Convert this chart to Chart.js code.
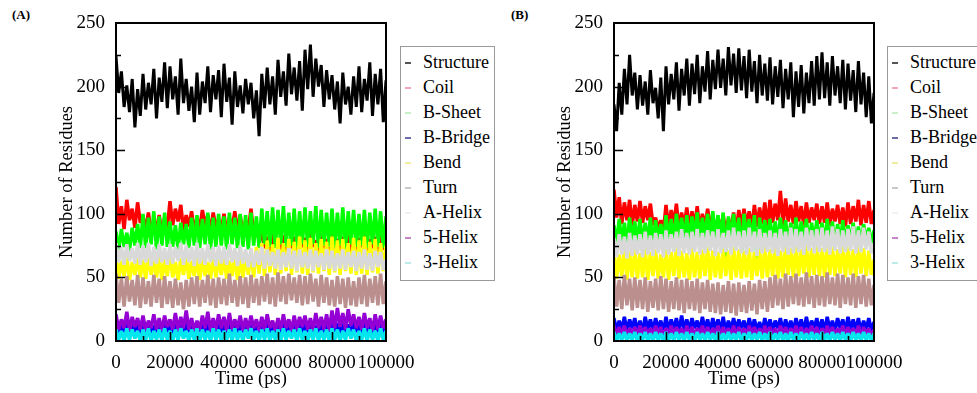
<!DOCTYPE html>
<html>
<head>
<meta charset="utf-8">
<script src="https://cdn.jsdelivr.net/npm/chart.js@4.4.1/dist/chart.umd.min.js"></script>
<style>
  body { margin: 0; width: 977px; height: 393px; background: #fff; overflow: hidden; position: relative; font-family: "Liberation Serif", "DejaVu Serif", serif; }
  .panel { position: absolute; top: 0; }
  .tag { position: absolute; top: 7px; font-weight: bold; font-size: 13px; }
  .legend { position: absolute; top: 46px; height: 235px; width: 95px; border: 1.5px solid #9a9a9a; background: #fff; box-sizing: border-box; }
  .legend div { position: absolute; left: 22px; font-size: 18px; line-height: 20px; white-space: nowrap; }
  .legend span { position: absolute; left: -18px; top: 10px; width: 6px; height: 1.5px; }
</style>
</head>
<body>
<div class="tag" style="left:12px">(A)</div>
<div class="tag" style="left:511px">(B)</div>
<div class="panel" style="left:0"><canvas id="chartA" width="430" height="393"></canvas></div>
<div class="panel" style="left:498px"><canvas id="chartB" width="479" height="393"></canvas></div>
<div class="legend" id="legendA" style="left:400px"></div>
<div class="legend" id="legendB" style="left:887px"></div>
<script>
// time axis (ps), one sample per 1000 ps
const timePs = [
  0,1000,2000,3000,4000,5000,6000,7000,8000,9000,
  10000,11000,12000,13000,14000,15000,16000,17000,18000,19000,
  20000,21000,22000,23000,24000,25000,26000,27000,28000,29000,
  30000,31000,32000,33000,34000,35000,36000,37000,38000,39000,
  40000,41000,42000,43000,44000,45000,46000,47000,48000,49000,
  50000,51000,52000,53000,54000,55000,56000,57000,58000,59000,
  60000,61000,62000,63000,64000,65000,66000,67000,68000,69000,
  70000,71000,72000,73000,74000,75000,76000,77000,78000,79000,
  80000,81000,82000,83000,84000,85000,86000,87000,88000,89000,
  90000,91000,92000,93000,94000,95000,96000,97000,98000,99000,
  100000
];

const seriesNames = ["Structure", "Coil", "B-Sheet", "B-Bridge", "Bend", "Turn", "A-Helix", "5-Helix", "3-Helix"];
const seriesColors = ["#000000", "#ff0000", "#00ff00", "#0000ff", "#ffff00", "#bc8f8f", "#d9d9d9", "#9400d3", "#00e8ee"];
const swatchColors = ["#555555", "#f4a6b4", "#c9efc9", "#6d6da6", "#f0ee9c", "#c9c9c9", "#f2f2f2", "#c785c9", "#bdece8"];

// ---- panel A ----
const structureA = [
  224,195,212,184,201,180,206,168,198,177,
  210,182,203,186,214,175,207,188,219,183,
  216,190,208,178,222,187,206,181,200,172,
  211,178,204,187,216,180,209,190,213,176,
  218,188,207,170,212,184,201,179,206,186,
  203,175,197,161,210,183,215,186,208,178,
  221,192,212,185,226,194,215,189,220,181,
  229,198,233,192,222,200,217,184,213,190,
  209,182,204,171,211,186,200,178,208,184,
  216,180,206,189,219,177,210,186,214,172,
  205
];
const coilA = [
  121,92,106,88,111,95,104,89,109,93,
  98,87,101,85,95,88,99,84,97,89,
  110,91,104,94,107,87,99,90,102,86,
  97,88,103,91,99,86,101,89,96,87,
  100,85,97,88,102,86,99,84,95,87,
  104,83,93,78,86,73,82,71,84,75,
  80,72,83,70,79,73,82,71,78,74,
  81,71,84,74,79,70,83,73,80,72,
  84,73,80,71,82,74,85,70,79,72,
  81,74,83,71,80,73,82,70,84,72,
  78
];
const sheetA = [
  86,72,88,74,85,71,89,75,92,73,
  100,73,97,76,102,72,98,75,101,74,
  94,74,91,72,93,76,92,73,97,75,
  99,73,96,76,101,72,97,74,100,75,
  98,72,101,76,97,73,100,74,99,72,
  101,75,98,73,104,76,102,74,105,73,
  103,76,106,74,101,75,104,73,102,76,
  105,74,102,76,106,73,103,75,101,74,
  104,73,101,75,105,72,102,76,103,74,
  100,75,103,73,101,76,104,74,102,73,
  98
];
const bridgeA = [
  14,6,13,7,15,6,12,7,14,6,
  13,7,14,6,12,7,15,6,13,7,
  14,6,13,7,12,6,14,7,13,6,
  15,7,14,6,13,7,16,6,14,7,
  13,6,15,7,14,6,13,7,12,6,
  14,7,13,6,15,7,14,6,13,7,
  12,6,14,7,13,6,15,7,14,6,
  13,7,14,6,12,7,15,6,14,7,
  16,7,14,6,15,7,13,6,14,7,
  13,6,14,7,12,6,15,7,13,6,
  12
];
const bendA = [
  67,49,63,51,66,48,62,52,65,50,
  64,49,67,52,63,50,66,48,64,51,
  68,50,62,48,65,52,67,49,63,51,
  65,48,66,51,62,49,67,50,64,52,
  66,49,63,51,67,48,64,50,66,52,
  70,50,74,53,77,51,79,54,76,52,
  81,53,77,55,80,52,78,54,82,53,
  79,52,81,54,77,53,80,55,78,52,
  82,54,79,52,80,55,77,53,81,52,
  79,53,82,52,78,54,80,53,77,55,
  75
];
const turnA = [
  53,30,49,27,51,31,48,28,52,26,
  50,29,47,27,52,30,49,26,51,29,
  47,26,49,28,46,25,48,27,50,29,
  51,27,48,30,52,28,49,26,50,29,
  49,28,53,30,48,27,51,29,50,26,
  52,30,49,28,51,31,53,29,50,27,
  54,31,51,29,53,32,50,30,52,28,
  51,29,53,31,49,27,52,30,50,28,
  48,27,51,29,49,26,50,28,47,27,
  50,29,52,27,49,30,51,28,53,29,
  47
];
const aHelixA = [
  77,62,74,60,76,63,73,61,77,60,
  75,62,77,59,74,61,76,62,73,60,
  76,61,74,63,77,60,75,62,74,59,
  77,61,73,60,76,62,74,59,75,61,
  74,60,76,62,73,59,75,61,72,58,
  73,58,71,60,74,57,72,59,70,57,
  72,56,70,58,73,57,71,55,72,58,
  70,57,72,55,71,58,69,56,72,57,
  71,55,69,57,72,56,70,58,71,55,
  70,57,72,56,69,55,71,58,70,56,
  64
];
const fiveHelixA = [
  21,9,17,10,23,8,19,11,18,9,
  20,8,16,10,21,9,18,8,20,11,
  17,9,22,8,19,10,24,9,18,8,
  16,9,20,10,23,8,18,9,21,10,
  19,8,22,9,17,10,20,8,18,9,
  20,10,17,8,19,9,21,10,16,8,
  18,9,21,10,17,8,20,9,19,11,
  20,9,18,8,22,10,19,9,21,8,
  24,10,26,11,22,9,25,12,21,10,
  19,9,22,10,18,8,21,9,20,10,
  17
];
const threeHelixA = [
  9,1,8,0,10,1,9,2,8,0,
  9,1,10,0,8,1,9,0,10,1,
  8,0,9,1,10,2,8,0,9,1,
  10,0,9,1,8,0,10,1,9,0,
  8,1,9,0,10,1,8,0,9,2,
  10,1,8,0,9,1,10,0,8,1,
  9,0,10,1,8,2,9,0,10,1,
  8,0,9,1,10,0,8,1,9,0,
  10,1,9,0,8,1,10,2,9,0,
  8,1,10,0,9,1,8,0,10,1,
  8
];

// ---- panel B ----
const structureB = [
  186,165,203,178,214,186,225,193,211,182,
  209,185,204,178,213,187,199,175,207,165,
  216,186,210,190,219,181,214,193,222,185,
  218,194,225,187,216,196,228,190,221,198,
  229,199,222,193,231,201,226,195,230,197,
  224,191,229,196,220,187,225,193,218,189,
  223,186,216,192,221,183,214,190,219,176,
  212,184,217,179,211,187,220,185,224,190,
  227,191,219,185,224,193,216,187,221,182,
  218,189,213,180,220,186,211,176,208,171,
  195
];
const coilB = [
  119,97,113,92,109,95,111,91,107,94,
  110,93,106,95,108,91,97,88,95,86,
  107,89,103,92,108,87,101,90,105,88,
  102,90,106,87,100,89,104,91,98,86,
  97,87,99,85,96,88,101,86,103,89,
  104,91,102,88,107,90,105,92,109,89,
  111,93,108,95,118,91,112,94,107,92,
  110,94,106,91,109,93,105,95,108,92,
  106,93,109,91,104,94,107,92,105,90,
  109,92,106,94,111,91,107,93,110,92,
  103
];
const sheetB = [
  91,76,96,78,93,75,97,79,94,77,
  96,76,93,78,97,75,95,79,92,77,
  99,80,96,78,100,81,97,79,99,77,
  98,81,101,79,97,80,100,78,102,81,
  99,79,101,66,98,80,100,79,97,69,
  100,81,96,78,99,64,97,80,95,79,
  96,78,94,77,97,79,95,76,93,78,
  97,77,94,79,96,76,93,78,95,77,
  93,76,96,78,94,75,92,77,95,76,
  91,77,93,75,90,76,92,78,89,76,
  87
];
const bridgeB = [
  18,8,16,9,19,7,17,10,18,8,
  16,7,19,9,17,8,18,10,16,7,
  19,8,17,9,18,7,20,9,17,8,
  18,10,16,8,19,9,17,7,18,9,
  17,8,19,7,16,9,18,8,17,10,
  16,7,18,9,17,8,15,7,18,9,
  17,8,16,10,18,7,17,9,16,8,
  18,9,17,7,19,8,16,10,18,8,
  17,7,19,9,16,8,18,10,17,7,
  19,9,17,8,18,7,16,9,18,8,
  15
];
const bendB = [
  71,49,68,51,73,48,70,50,72,49,
  69,50,73,48,70,51,72,49,68,50,
  72,48,70,51,74,49,71,50,69,48,
  73,50,70,49,72,51,74,48,71,50,
  70,49,73,51,71,48,74,50,72,49,
  71,50,73,48,70,51,72,49,74,50,
  72,51,74,49,71,50,75,52,73,50,
  74,51,72,53,76,50,73,52,75,51,
  73,50,76,52,74,51,72,53,75,50,
  74,52,72,50,75,53,73,51,71,52,
  64
];
const turnB = [
  51,27,48,25,52,28,49,24,50,26,
  48,25,50,23,47,26,49,24,51,25,
  49,23,47,25,50,24,48,22,49,25,
  47,24,49,22,46,25,48,23,45,22,
  46,21,44,23,47,22,45,20,46,23,
  44,22,47,24,45,21,48,25,47,23,
  50,26,52,28,49,25,53,27,51,29,
  53,28,50,27,54,29,51,26,52,28,
  51,27,54,29,50,28,53,26,52,29,
  50,28,53,26,51,29,52,27,49,28,
  44
];
const aHelixB = [
  81,66,84,68,82,65,85,67,83,68,
  84,66,86,68,83,67,85,69,84,66,
  87,68,84,70,86,67,88,69,85,68,
  86,70,88,68,85,69,87,71,86,67,
  88,69,85,70,87,68,89,71,86,69,
  87,68,89,70,86,67,88,69,85,70,
  87,69,85,67,88,70,86,68,89,69,
  88,70,86,68,89,71,87,69,88,70,
  89,70,87,68,90,71,88,69,87,70,
  88,71,90,69,87,70,89,72,86,69,
  77
];
const fiveHelixB = [
  12,4,11,5,12,3,10,5,11,4,
  12,5,11,4,10,5,12,4,11,3,
  10,5,12,4,11,5,10,3,12,4,
  11,4,10,5,12,4,11,3,10,5,
  12,4,11,5,10,4,12,3,11,5,
  10,4,12,5,11,3,10,4,12,5,
  11,4,10,3,12,5,11,4,10,5,
  12,3,11,4,10,5,12,4,11,3,
  10,5,12,4,11,3,10,5,12,4,
  11,5,10,4,12,3,11,5,10,4,
  9
];
const threeHelixB = [
  7,0,6,1,7,0,6,1,7,0,
  6,1,7,0,6,0,7,1,6,0,
  7,1,6,0,7,1,6,0,7,1,
  6,0,7,1,6,0,7,1,6,0,
  7,0,6,1,7,0,6,1,7,0,
  6,1,7,0,6,1,7,0,6,1,
  7,0,6,1,7,0,6,0,7,1,
  6,0,7,1,6,0,7,1,6,0,
  7,1,6,0,7,1,6,0,7,1,
  6,0,7,1,6,0,7,1,6,0,
  6
];

const yMax = 250, yStep = 50, yMinor = 25;
const xMax = 100000, xStep = 20000, xMinor = 10000;

// inward ticks and the plot frame
const frameTicks = {
  id: "frameTicks",
  afterDatasetsDraw(chart) {
    const { ctx, chartArea: a, scales: { x, y } } = chart;
    ctx.save();
    ctx.strokeStyle = "#000";
    ctx.lineWidth = 1.6;
    ctx.beginPath();
    for (let v = yMinor; v < yMax; v += yMinor) {
      const py = Math.round(y.getPixelForValue(v)) + 0.5;
      const len = v % yStep === 0 ? 9 : 5;
      ctx.moveTo(a.left, py);
      ctx.lineTo(a.left + len, py);
    }
    for (let v = xMinor; v < xMax; v += xMinor) {
      const px = Math.round(x.getPixelForValue(v)) + 0.5;
      const len = v % xStep === 0 ? 9 : 5;
      ctx.moveTo(px, a.bottom);
      ctx.lineTo(px, a.bottom - len);
    }
    ctx.stroke();
    ctx.lineWidth = 2;
    ctx.strokeRect(a.left, a.top, a.right - a.left, a.bottom - a.top);
    ctx.restore();
  },
};

Chart.defaults.color = "#000";
Chart.defaults.font.family = '"Liberation Serif", "Times New Roman", serif';

function makePanel(canvasId, series, rightPad) {
  const datasets = series.map((values, i) => ({
    label: seriesNames[i],
    data: values,
    borderColor: seriesColors[i],
    backgroundColor: seriesColors[i],
    borderWidth: i === 0 ? 3.0 : 3.5,
    borderJoinStyle: "bevel",
    pointRadius: 0,
    tension: 0,
    order: series.length - i, // later series are drawn on top, as in xmgrace
  }));

  new Chart(document.getElementById(canvasId), {
    type: "line",
    data: { labels: timePs, datasets },
    options: {
      responsive: false,
      animation: false,
      events: [],
      layout: { padding: { left: 0, top: 23, right: rightPad, bottom: 0 } },
      plugins: { legend: { display: false }, tooltip: { enabled: false } },
      scales: {
        x: {
          type: "linear",
          min: 0,
          max: xMax,
          grid: { display: false },
          border: { display: false },
          ticks: {
            stepSize: xStep,
            autoSkip: false,
            maxRotation: 0,
            padding: 3,
            font: { size: 19 },
            callback: (v) => String(v),
          },
          title: { display: true, text: "Time (ps)", font: { size: 18.5 }, padding: { top: 0, bottom: 3 } },
          afterFit(s) {
            s.height = 52;
            s.paddingLeft = 0;
            s.paddingRight = 0;
          },
        },
        y: {
          min: 0,
          max: yMax,
          grid: { display: false },
          border: { display: false },
          ticks: { stepSize: yStep, padding: 3, font: { size: 19 } },
          title: { display: true, text: "Number of Residues", font: { size: 18.5 }, padding: { top: 56, bottom: 0 } },
          afterFit(s) {
            s.width = 116;
            s.paddingTop = 0;
            s.paddingBottom = 0;
          },
        },
      },
    },
    plugins: [frameTicks],
  });
}

function makeLegend(id) {
  const box = document.getElementById(id);
  seriesNames.forEach((name, i) => {
    const row = document.createElement("div");
    row.style.top = 5 + i * 25 + "px";
    const dash = document.createElement("span");
    dash.style.background = swatchColors[i];
    row.appendChild(dash);
    row.appendChild(document.createTextNode(name));
    box.appendChild(row);
  });
}

makePanel("chartA", [structureA, coilA, sheetA, bridgeA, bendA, turnA, aHelixA, fiveHelixA, threeHelixA], 44);
makePanel("chartB", [structureB, coilB, sheetB, bridgeB, bendB, turnB, aHelixB, fiveHelixB, threeHelixB], 103);
makeLegend("legendA");
makeLegend("legendB");
</script>
</body>
</html>
